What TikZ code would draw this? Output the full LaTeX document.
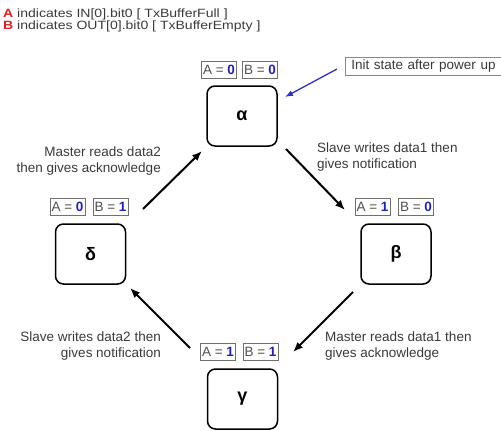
\documentclass[tikz,border=0pt]{standalone}
\usepackage{fontspec}
\setmainfont{Liberation Sans}
\newfontfamily\hdrfont[FakeStretch=1.17]{Liberation Sans}
\usetikzlibrary{arrows.meta}
\definecolor{txtgray}{HTML}{3A3A3A}
\definecolor{flaggray}{HTML}{707070}
\definecolor{flagtxt}{HTML}{505050}
\definecolor{vblue}{HTML}{2020C0}
\definecolor{hred}{HTML}{E02020}
\definecolor{initb}{HTML}{8080CC}
\definecolor{initarrow}{HTML}{3030D0}
\begin{document}
\begin{tikzpicture}[x=1pt,y=-1pt,
  state/.style={draw=black, line width=1.5pt, rounded corners=8pt, minimum width=70pt, minimum height=60pt, inner sep=0pt, font=\fontsize{18}{20}\selectfont\bfseries},
  flag/.style={draw=flaggray, line width=0.8pt, minimum width=35pt, minimum height=17pt, inner sep=0pt, text=flagtxt, font=\fontsize{13.5}{15}\selectfont},
  trans/.style={line width=2pt, -{Latex[length=10pt,width=8pt]}},
  note/.style={text=txtgray, inner sep=0pt, font=\fontsize{13.5}{15.5}\selectfont},
  hdr/.style={text=txtgray, inner sep=0pt, anchor=base west, font=\hdrfont\fontsize{12}{14}\selectfont}
]
\useasboundingbox (0,0) rectangle (501,431);

% header
\node[hdr] (h1) at (3,17) {{\color{hred}\bfseries A} indicates IN[0].bit0 [ TxBufferFull ]};
\node[hdr] (h2) at (3,30) {{\color{hred}\bfseries B} indicates OUT[0].bit0 [ TxBufferEmpty ]};

% states
\node[state] (alpha) at (242,116) {α};
\node[state] (delta) at (90.5,254) {δ};
\node[state] (beta)  at (396,254) {β};
\node[state] (gamma) at (242.5,399) {γ};

% flags
\newcommand{\fl}[2]{#1 = {\color{vblue}\bfseries #2}}
\node[flag] (aA) at (219,69.5) {\fl{A}{0}};
\node[flag] (aB) at (260,69.5) {\fl{B}{0}};
\node[flag] (dA) at (67.5,207) {\fl{A}{0}};
\node[flag] (dB) at (110.5,207) {\fl{B}{1}};
\node[flag] (bA) at (372.5,207) {\fl{A}{1}};
\node[flag] (bB) at (416,207) {\fl{B}{0}};
\node[flag] (gA) at (218,352) {\fl{A}{1}};
\node[flag] (gB) at (260.5,352) {\fl{B}{1}};

% init note
\node[draw=initb, line width=0.9pt, anchor=north west, minimum height=18pt, text width=150pt, inner xsep=6pt, inner ysep=0pt, text=txtgray, font=\fontsize{13.5}{15}\selectfont] (init) at (345,57) {Init state after power up};

% transition labels
\node[note, align=left, anchor=north west] (t1) at (317,143) {Slave writes data1 then\\gives notification};
\node[note, align=right, anchor=north east] (t4) at (161,147) {Master reads data2\\then gives acknowledge};
\node[note, align=right, anchor=north east] (t3) at (161,332) {Slave writes data2 then\\gives notification};
\node[note, align=left, anchor=north west] (t2) at (325,332) {Master reads data1 then\\gives acknowledge};

% arrow end points
\coordinate (ab1) at (286,149); \coordinate (ab2) at (345,210);
\coordinate (bg1) at (353,292); \coordinate (bg2) at (293,352);
\coordinate (gd1) at (190,348); \coordinate (gd2) at (130,288);
\coordinate (da1) at (143,209); \coordinate (da2) at (202,151);
\coordinate (in1) at (337,69);  \coordinate (in2) at (285,97);

\draw[trans] (ab1) -- (ab2);
\draw[trans] (bg1) -- (bg2);
\draw[trans] (gd1) -- (gd2);
\draw[trans] (da1) -- (da2);
\draw[initarrow, line width=1.3pt, -{Latex[length=8pt,width=6pt]}] (in1) -- (in2);
\end{tikzpicture}
\end{document}
